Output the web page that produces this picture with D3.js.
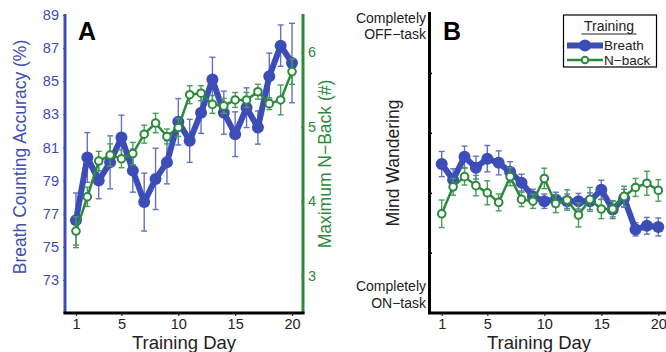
<!DOCTYPE html>
<html><head><meta charset="utf-8">
<script src="https://cdn.jsdelivr.net/npm/d3@7"></script>
<style>body{margin:0;background:#fff}svg{display:block;font-family:"Liberation Sans",Arial,sans-serif}</style>
</head><body>
<svg id="c" width="666" height="352"></svg>
<script>
const days = d3.range(1, 21);
const xTicks = [1, 5, 10, 15, 20];
const accTicks = [73, 75, 77, 79, 81, 83, 85, 87, 89];
const nbackTicks = [3, 4, 5, 6];
// Panel A
const breathAcc = [76.6,80.4,79.0,80.1,81.6,79.6,77.7,79.1,80.1,82.55,81.4,83.1,85.1,83.1,81.8,83.4,82.2,85.3,87.15,86.1];
const breathAccErr = [1.65,1.5,1.1,1.6,1.35,1.3,1.75,1.85,1.3,1.4,1.3,1.25,1.35,1.3,1.35,1.2,1.0,1.4,1.25,2.4];
const nbackMax = [3.6,4.06,4.54,4.62,4.57,4.64,4.9,5.05,4.87,4.99,5.43,5.45,5.3,5.28,5.36,5.36,5.47,5.31,5.36,5.74];
const nbackMaxErr = [0.19,0.13,0.13,0.15,0.12,0.15,0.12,0.13,0.1,0.12,0.12,0.1,0.12,0.1,0.1,0.1,0.1,0.08,0.2,0.17];
// Panel B (1 = completely on-task, 6 = completely off-task)
const mwBreath = [3.48,3.22,3.6,3.42,3.57,3.5,3.35,3.17,2.94,2.86,2.89,2.86,2.86,2.86,3.05,2.72,2.91,2.39,2.45,2.43];
const mwBreathErr = [0.21,0.18,0.18,0.19,0.22,0.2,0.17,0.14,0.12,0.12,0.12,0.12,0.13,0.14,0.16,0.15,0.15,0.11,0.14,0.15];
const mwNback = [2.65,3.1,3.27,3.12,3.0,2.84,3.27,2.89,2.86,3.24,2.82,2.88,2.63,2.89,2.73,2.73,2.94,3.09,3.16,3.04];
const mwNbackErr = [0.23,0.14,0.14,0.17,0.2,0.14,0.15,0.12,0.12,0.17,0.15,0.17,0.2,0.2,0.16,0.13,0.17,0.15,0.2,0.18];
const mwTicks = [2, 3, 4, 5];

const BLUE = "#3d4db7", BLUE_E = "#6370c6", GREEN = "#2b8a3c", GREEN_E = "#4a9e58";
const FONT = "Liberation Sans, Arial, sans-serif";
const svg = d3.select("#c");

function series(g, x, y, vals, errs, opt) {
  const s = g.append("g");
  days.forEach((d, i) => {
    const xx = x(d), y0 = y(vals[i] - errs[i]), y1 = y(vals[i] + errs[i]);
    s.append("line").attr("x1", xx).attr("x2", xx).attr("y1", y0).attr("y2", y1)
      .attr("stroke", opt.ecol).attr("stroke-width", 1.4);
    [y0, y1].forEach(yy => s.append("line").attr("x1", xx - 3).attr("x2", xx + 3)
      .attr("y1", yy).attr("y2", yy).attr("stroke", opt.ecol).attr("stroke-width", 1.4));
  });
  s.append("path").datum(vals)
    .attr("d", d3.line().x((v, i) => x(days[i])).y(v => y(v)))
    .attr("fill", "none").attr("stroke", opt.col).attr("stroke-width", opt.lw)
    .attr("stroke-linejoin", "round");
  s.selectAll("circle").data(vals).join("circle")
    .attr("cx", (v, i) => x(days[i])).attr("cy", v => y(v)).attr("r", opt.r)
    .attr("fill", opt.fill).attr("stroke", opt.col).attr("stroke-width", opt.sw);
}

function styleText(sel, col) {
  sel.selectAll("text").attr("fill", col).attr("font-size", 14.5).style("font-family", FONT);
}

// ---------- Panel A ----------
const xA = d3.scaleLinear().domain([0, 21]).range([64.6, 303.4]);
const yA = d3.scaleLinear().domain([71, 89]).range([313, 15]);
const yA2 = d3.scaleLinear().domain([2.5, 6.5]).range([313, 15]);
const gA = svg.append("g");

series(gA, xA, yA, breathAcc, breathAccErr, {col: BLUE, ecol: BLUE_E, lw: 6, r: 6, fill: BLUE, sw: 0});
series(gA, xA, yA2, nbackMax, nbackMaxErr, {col: GREEN, ecol: GREEN_E, lw: 2.5, r: 3.8, fill: "#fff", sw: 2});

gA.append("line").attr("x1", 65).attr("x2", 65).attr("y1", 14).attr("y2", 314).attr("stroke", BLUE).attr("stroke-width", 3);
const axL = gA.append("g").attr("transform", "translate(65,0)")
  .call(d3.axisLeft(yA).tickValues(accTicks).tickSize(2).tickPadding(4));
axL.select(".domain").remove();
axL.selectAll("line").attr("stroke", BLUE);
styleText(axL, BLUE);

gA.append("line").attr("x1", 303).attr("x2", 303).attr("y1", 14).attr("y2", 314).attr("stroke", GREEN).attr("stroke-width", 3);
const axR = gA.append("g").attr("transform", "translate(303,0)")
  .call(d3.axisRight(yA2).tickValues(nbackTicks).tickFormat(d3.format("d")).tickSize(-2).tickPadding(5));
axR.select(".domain").remove();
axR.selectAll("line").attr("stroke", GREEN);
styleText(axR, GREEN);

gA.append("line").attr("x1", 63.5).attr("x2", 304.5).attr("y1", 313).attr("y2", 313).attr("stroke", "#000").attr("stroke-width", 3);
const axBA = gA.append("g").attr("transform", "translate(0,313)")
  .call(d3.axisBottom(xA).tickValues(xTicks).tickSize(3).tickPadding(3));
axBA.select(".domain").remove();
axBA.selectAll("line").attr("stroke", "#222").attr("stroke-width", 1.2);
styleText(axBA, "#222");

gA.append("text").attr("x", 184).attr("y", 349).attr("text-anchor", "middle").attr("font-size", 18.5).attr("fill", "#222").text("Training Day");
gA.append("text").attr("transform", "translate(26,157) rotate(-90)").attr("text-anchor", "middle")
  .attr("font-size", 17.5).attr("fill", BLUE).text("Breath Counting Accuracy (%)");
gA.append("text").attr("transform", "translate(331,164) rotate(-90)").attr("text-anchor", "middle")
  .attr("font-size", 17.5).attr("fill", GREEN).text("Maximum N\u2212Back (#)");
gA.append("text").attr("x", 78).attr("y", 40).attr("font-size", 25).attr("font-weight", "bold").attr("fill", "#000").text("A");

// ---------- Panel B ----------
const xB = d3.scaleLinear().domain([0, 21]).range([430.3, 669.7]);
const yB = d3.scaleLinear().domain([1, 6]).range([312.7, 13]);
const gB = svg.append("g");

series(gB, xB, yB, mwBreath, mwBreathErr, {col: BLUE, ecol: BLUE_E, lw: 6, r: 6, fill: BLUE, sw: 0});
series(gB, xB, yB, mwNback, mwNbackErr, {col: GREEN, ecol: GREEN_E, lw: 2.5, r: 3.8, fill: "#fff", sw: 2});

gB.append("line").attr("x1", 429.5).attr("x2", 429.5).attr("y1", 12).attr("y2", 314).attr("stroke", "#000").attr("stroke-width", 3);
const axLB = gB.append("g").attr("transform", "translate(429.5,0)")
  .call(d3.axisRight(yB).tickValues(mwTicks).tickSize(2.5).tickFormat(""));
axLB.select(".domain").remove();
axLB.selectAll("line").attr("stroke", "#000").attr("stroke-width", 1.5);
gB.append("line").attr("x1", 428).attr("x2", 666).attr("y1", 313).attr("y2", 313).attr("stroke", "#000").attr("stroke-width", 3);
const axBB = gB.append("g").attr("transform", "translate(0,313)")
  .call(d3.axisBottom(xB).tickValues(xTicks).tickSize(3).tickPadding(3));
axBB.select(".domain").remove();
axBB.selectAll("line").attr("stroke", "#222").attr("stroke-width", 1.2);
styleText(axBB, "#222");

gB.append("text").attr("x", 539).attr("y", 349).attr("text-anchor", "middle").attr("font-size", 18.5).attr("fill", "#222").text("Training Day");
gB.append("text").attr("transform", "translate(399,163) rotate(-90)").attr("text-anchor", "middle")
  .attr("font-size", 17.5).attr("fill", "#222").text("Mind Wandering");
const endLbl = [["Completely", 22.5], ["OFF\u2212task", 39], ["Completely", 291], ["ON\u2212task", 308]];
endLbl.forEach(([t, yy]) => gB.append("text").attr("x", 426).attr("y", yy).attr("text-anchor", "end")
  .attr("font-size", 14).attr("fill", "#222").text(t));
gB.append("text").attr("x", 443).attr("y", 40).attr("font-size", 25).attr("font-weight", "bold").attr("fill", "#000").text("B");

// legend
const lg = gB.append("g");
lg.append("rect").attr("x", 563.5).attr("y", 15).attr("width", 93).attr("height", 52).attr("fill", "#fff").attr("stroke", "#000").attr("stroke-width", 1.2);
lg.append("text").attr("x", 609).attr("y", 30.5).attr("text-anchor", "middle").attr("font-size", 14).attr("fill", "#222").text("Training");
lg.append("line").attr("x1", 581.5).attr("x2", 636.5).attr("y1", 34).attr("y2", 34).attr("stroke", "#222").attr("stroke-width", 1);
const legItems = [["Breath", BLUE, 6, 6, BLUE, 0, 45.5], ["N\u2212back", GREEN, 2.5, 3.3, "#fff", 2, 60]];
legItems.forEach(([t, c, lw, r, f, sw, yy]) => {
  lg.append("line").attr("x1", 567).attr("x2", 603).attr("y1", yy).attr("y2", yy).attr("stroke", c).attr("stroke-width", lw);
  lg.append("circle").attr("cx", 585).attr("cy", yy).attr("r", r).attr("fill", f).attr("stroke", c).attr("stroke-width", sw);
  lg.append("text").attr("x", 604).attr("y", yy + 4.5).attr("font-size", 13.5).attr("fill", "#222").text(t);
});
</script>
</body></html>
